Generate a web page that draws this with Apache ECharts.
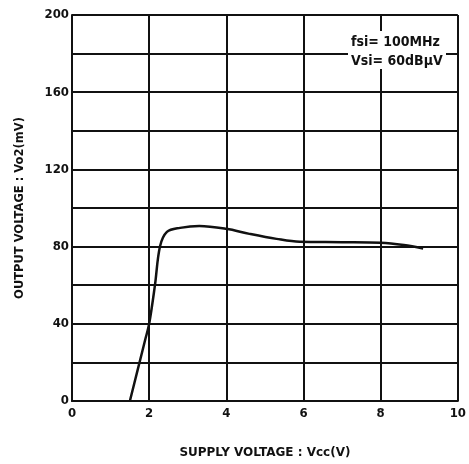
<!DOCTYPE html>
<html>
<head>
<meta charset="utf-8">
<script src="https://cdn.jsdelivr.net/npm/echarts@6/dist/echarts.min.js"></script>
<style>html,body{margin:0;padding:0;background:#fff}#c{width:469px;height:464px}</style>
</head>
<body>
<div id="c"></div>
<script>
var supplyV = [1.5, 1.7, 1.9, 2.0, 2.15, 2.28, 2.46, 2.8, 3.3, 4.0, 4.6, 5.3, 5.9, 7.0, 8.0, 8.6, 9.1];
var outputMV = [0, 16, 32, 40, 60, 80, 87.6, 89.7, 90.7, 89.2, 86.6, 84, 82.5, 82.3, 82, 80.8, 79];
var xTicks = [0, 2, 4, 6, 8, 10];
var yTicks = [0, 40, 80, 120, 160, 200];
var noteLines = ['fsi= 100MHz', 'Vsi= 60dB\u03bcV'];

var font = "'DejaVu Sans Condensed','Liberation Sans Narrow',sans-serif";
var titleFont = "'DejaVu Sans','Liberation Sans',sans-serif";
var chart = echarts.init(document.getElementById('c'), null, {renderer: 'canvas'});
var data = supplyV.map(function (v, i) { return [v, outputMV[i]]; });
chart.setOption({
  animation: false,
  backgroundColor: '#fff',
  grid: {left: 72, top: 15, width: 386, height: 388, containLabel: false},
  xAxis: {
    type: 'value', min: 0, max: 10, interval: 2,
    name: 'SUPPLY VOLTAGE : Vcc(V)', nameLocation: 'middle', nameGap: 46,
    nameTextStyle: {fontFamily: titleFont, fontWeight: 'bold', fontSize: 12, color: '#111'},
    axisLine: {show: true, lineStyle: {color: '#111', width: 2}},
    axisTick: {show: false},
    axisLabel: {fontFamily: font, fontWeight: 'bold', fontSize: 13, color: '#111', margin: 6,
      formatter: function (v) { return xTicks.indexOf(v) >= 0 ? String(v) : ''; }},
    splitLine: {show: true, lineStyle: {color: '#111', width: 2}}
  },
  yAxis: {
    type: 'value', min: 0, max: 200, interval: 20,
    name: 'OUTPUT VOLTAGE : Vo2(mV)', nameLocation: 'middle', nameGap: 46,
    nameTextStyle: {fontFamily: titleFont, fontWeight: 'bold', fontSize: 11.5, color: '#111'},
    axisLine: {show: true, lineStyle: {color: '#111', width: 2}},
    axisTick: {show: false},
    axisLabel: {fontFamily: font, fontWeight: 'bold', fontSize: 13, color: '#111', margin: 3,
      formatter: function (v) { return yTicks.indexOf(v) >= 0 ? String(v) : ''; }},
    splitLine: {show: true, lineStyle: {color: '#111', width: 2}}
  },
  graphic: [
    {type: 'rect', left: 348, top: 31, shape: {width: 98, height: 38}, style: {fill: '#fff'}, z: 100},
    {type: 'text', left: 351, top: 33, z: 101,
      style: {text: noteLines.join('\n'), fontFamily: font, fontWeight: 'bold', fontSize: 14, lineHeight: 19, fill: '#111'}}
  ],
  series: [{
    type: 'line', data: data, smooth: 0.35, showSymbol: false,
    lineStyle: {color: '#111', width: 2.5}
  }]
});
</script>
</body>
</html>
